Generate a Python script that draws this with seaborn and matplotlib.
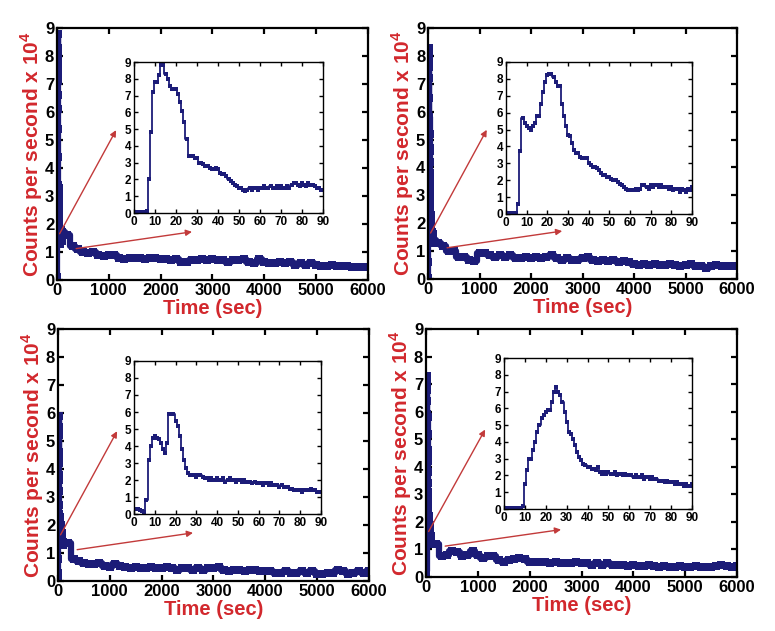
import numpy as np
import pandas as pd
import matplotlib
matplotlib.use("Agg")
import matplotlib.pyplot as plt
import seaborn as sns

# first 90 s (1 s sampling), counts per second x 1e4
inset_a = [0.05, 0.05, 0.05, 0.05, 0.05, 0.05, 0.1, 2.0, 4.8, 7.2,
           7.8, 7.8, 8.2, 8.8, 8.8, 8.3, 8.0, 7.6, 7.4, 7.4,
           7.4, 7.1, 6.6, 6.1, 5.4, 4.4, 3.4, 3.4, 3.4, 3.3,
           3.3, 3.0, 3.0, 2.9, 2.8, 2.8, 2.7, 2.6, 2.6, 2.7,
           2.6, 2.4, 2.3, 2.3, 2.2, 2.0, 1.9, 1.8, 1.7, 1.6,
           1.5, 1.5, 1.4, 1.3, 1.4, 1.5, 1.4, 1.5, 1.5, 1.4,
           1.5, 1.5, 1.6, 1.5, 1.5, 1.6, 1.5, 1.5, 1.6, 1.5,
           1.6, 1.5, 1.5, 1.6, 1.5, 1.7, 1.8, 1.8, 1.7, 1.6,
           1.8, 1.7, 1.6, 1.8, 1.7, 1.7, 1.6, 1.5, 1.5, 1.4, 1.4]
inset_b = [0.05, 0.05, 0.05, 0.05, 0.05, 0.05, 0.6, 3.7, 5.7, 5.4,
           5.2, 5.1, 5.0, 5.2, 5.4, 5.8, 5.8, 6.5, 7.2, 7.8,
           8.2, 8.3, 8.3, 8.1, 7.8, 7.6, 7.6, 6.5, 5.8, 5.2,
           4.7, 4.6, 4.2, 3.8, 3.6, 3.6, 3.4, 3.3, 3.3, 3.3,
           3.0, 2.9, 2.8, 2.8, 2.7, 2.6, 2.4, 2.3, 2.3, 2.2,
           2.2, 2.1, 2.0, 2.0, 1.9, 1.8, 1.7, 1.6, 1.5, 1.4,
           1.4, 1.4, 1.4, 1.5, 1.4, 1.5, 1.7, 1.7, 1.6, 1.5,
           1.7, 1.6, 1.7, 1.7, 1.6, 1.7, 1.6, 1.6, 1.6, 1.5,
           1.6, 1.4, 1.5, 1.5, 1.3, 1.5, 1.4, 1.3, 1.5, 1.4, 1.6]
inset_c = [0.3, 0.3, 0.3, 0.25, 0.2, 0.1, 0.8, 3.2, 4.0, 4.5,
           4.6, 4.5, 4.4, 4.2, 3.8, 3.6, 4.2, 5.9, 5.9, 5.9,
           5.5, 5.2, 4.6, 3.8, 3.2, 2.7, 2.4, 2.3, 2.3, 2.3,
           2.2, 2.3, 2.3, 2.2, 2.1, 2.1, 2.0, 2.1, 2.0, 2.0,
           2.1, 2.0, 2.0, 2.1, 1.9, 2.0, 2.1, 2.0, 2.0, 1.9,
           2.0, 2.0, 1.9, 2.0, 1.9, 1.9, 1.9, 1.8, 1.9, 1.8,
           1.8, 1.8, 1.7, 1.8, 1.8, 1.7, 1.8, 1.7, 1.7, 1.7,
           1.6, 1.7, 1.6, 1.6, 1.6, 1.5, 1.5, 1.4, 1.4, 1.4,
           1.4, 1.3, 1.4, 1.4, 1.4, 1.5, 1.4, 1.4, 1.3, 1.3, 1.3]
inset_d = [0.05, 0.05, 0.05, 0.05, 0.05, 0.05, 0.05, 0.05, 0.05, 0.2,
           1.5, 2.3, 3.0, 3.0, 3.5, 4.0, 4.6, 5.0, 5.4, 5.6,
           5.8, 5.9, 5.9, 6.4, 7.0, 7.3, 7.0, 6.8, 6.4, 5.8,
           5.2, 4.6, 4.5, 4.2, 3.8, 3.4, 3.1, 2.9, 2.7, 2.6,
           2.5, 2.5, 2.4, 2.4, 2.3, 2.5, 2.2, 2.1, 2.2, 2.1,
           2.2, 2.1, 2.1, 2.2, 2.0, 2.1, 2.1, 2.0, 2.1, 2.0,
           2.0, 2.0, 1.9, 2.0, 1.9, 1.9, 2.0, 1.8, 1.9, 1.9,
           1.8, 1.9, 1.8, 1.8, 1.7, 1.7, 1.7, 1.6, 1.7, 1.6,
           1.6, 1.6, 1.5, 1.6, 1.5, 1.5, 1.4, 1.5, 1.4, 1.4, 1.5]
inset_time = list(range(0, 91))

# long-run decay, 100 s sampling from 100 s to 6000 s
tail_time = list(range(100, 6001, 100))
tail_a = [1.7, 1.6, 1.2, 1.1, 1.0, 0.95, 1.0, 0.9, 0.85, 0.9,
          0.9, 0.8, 0.75, 0.8, 0.8, 0.8, 0.75, 0.8, 0.8, 0.75,
          0.75, 0.7, 0.75, 0.65, 0.65, 0.7, 0.7, 0.75, 0.7, 0.75,
          0.7, 0.7, 0.65, 0.7, 0.7, 0.75, 0.65, 0.6, 0.75, 0.65,
          0.6, 0.6, 0.65, 0.6, 0.65, 0.55, 0.6, 0.55, 0.6, 0.55,
          0.5, 0.5, 0.55, 0.5, 0.5, 0.5, 0.45, 0.45, 0.45, 0.45]
tail_b = [1.4, 1.3, 1.2, 1.0, 1.0, 0.8, 0.8, 0.7, 0.65, 0.95,
          0.95, 0.85, 0.8, 0.85, 0.8, 0.85, 0.75, 0.75, 0.8, 0.75,
          0.8, 0.75, 0.8, 0.85, 0.75, 0.7, 0.75, 0.7, 0.7, 0.75,
          0.8, 0.7, 0.65, 0.7, 0.65, 0.7, 0.6, 0.65, 0.6, 0.55,
          0.5, 0.55, 0.5, 0.55, 0.5, 0.5, 0.55, 0.5, 0.45, 0.5,
          0.55, 0.45, 0.45, 0.4, 0.45, 0.5, 0.45, 0.45, 0.45, 0.45]
tail_c = [1.4, 1.35, 0.8, 0.7, 0.65, 0.6, 0.6, 0.65, 0.55, 0.5,
          0.6, 0.55, 0.5, 0.45, 0.5, 0.45, 0.45, 0.5, 0.45, 0.45,
          0.5, 0.45, 0.4, 0.45, 0.45, 0.4, 0.45, 0.4, 0.45, 0.45,
          0.5, 0.4, 0.35, 0.4, 0.4, 0.35, 0.4, 0.4, 0.35, 0.35,
          0.35, 0.3, 0.3, 0.35, 0.3, 0.3, 0.35, 0.3, 0.35, 0.25,
          0.25, 0.3, 0.3, 0.4, 0.35, 0.25, 0.3, 0.35, 0.3, 0.35]
tail_d = [1.2, 1.2, 0.75, 0.8, 0.95, 0.9, 0.75, 0.8, 0.95, 0.8,
          0.7, 0.75, 0.75, 0.6, 0.55, 0.6, 0.65, 0.7, 0.65, 0.55,
          0.55, 0.55, 0.55, 0.5, 0.55, 0.5, 0.5, 0.5, 0.55, 0.5,
          0.5, 0.45, 0.5, 0.45, 0.5, 0.45, 0.45, 0.45, 0.4, 0.45,
          0.4, 0.4, 0.45, 0.4, 0.35, 0.4, 0.35, 0.35, 0.4, 0.35,
          0.35, 0.4, 0.35, 0.35, 0.35, 0.4, 0.45, 0.4, 0.35, 0.4]

main_xticks = [0, 1000, 2000, 3000, 4000, 5000, 6000]
inset_xticks = [0, 10, 20, 30, 40, 50, 60, 70, 80, 90]
yticks = [0, 1, 2, 3, 4, 5, 6, 7, 8, 9]

# arrow (start, end) in main data coords
arrow_up = ((50, 1.65), (1140, 5.35))
arrow_right = ((370, 1.12), (2605, 1.72))

sns.set_style("ticks")
plt.rcParams['font.family'] = ['Liberation Sans', 'DejaVu Sans']
plt.rcParams['font.weight'] = 'bold'
plt.rcParams['mathtext.fontset'] = 'custom'
plt.rcParams['mathtext.bf'] = 'Liberation Sans:bold'
plt.rcParams['mathtext.rm'] = 'Liberation Sans:bold'

navy = '#1c1c78'
red = '#d2282d'
arrow_red = '#c23a3a'

fig = plt.figure(figsize=(7.75, 6.31), dpi=100)

main_pos = [[0.0735, 0.5563, 0.4013, 0.3994],
            [0.5523, 0.5578, 0.3987, 0.3978],
            [0.0748, 0.0792, 0.4013, 0.3994],
            [0.5497, 0.0856, 0.4013, 0.3930]]
inset_pos = [[0.1729, 0.6624, 0.2439, 0.2393],
             [0.6529, 0.6609, 0.2400, 0.2409],
             [0.1729, 0.1854, 0.2413, 0.2425],
             [0.6503, 0.1933, 0.2426, 0.2393]]

insets = [inset_a, inset_b, inset_c, inset_d]
tails = [tail_a, tail_b, tail_c, tail_d]


def style_axes(ax, fs, width):
    ax.tick_params(direction='in', top=True, right=True, length=4,
                   width=width, labelsize=fs, colors='black', pad=2)
    for s in ax.spines.values():
        s.set_linewidth(width)
        s.set_color('black')
        s.set_visible(True)
    for lab in ax.get_xticklabels() + ax.get_yticklabels():
        lab.set_fontweight('bold')


for i in range(4):
    ax = fig.add_axes(main_pos[i])
    full = pd.DataFrame({'t': inset_time + tail_time,
                         'c': insets[i] + tails[i]})
    sns.lineplot(data=full, x='t', y='c', ax=ax, color=navy, linewidth=4.5,
                 marker='s', markersize=6, markeredgewidth=0,
                 estimator=None, sort=False, drawstyle='steps-mid')
    ax.set_xlim(0, 6000)
    ax.set_ylim(0, 9)
    ax.set_xticks(main_xticks)
    ax.set_yticks(yticks)
    ax.set_xlabel('Time (sec)', color=red, fontsize=14.5, fontweight='bold',
                  labelpad=1)
    ax.set_ylabel('Counts per second x 10$^{\\mathbf{4}}$', color=red,
                  fontsize=15, fontweight='bold', labelpad=0)
    style_axes(ax, 12, 1.6)
    for (x0, y0), (x1, y1) in [arrow_up, arrow_right]:
        ax.annotate('', xy=(x1, y1), xytext=(x0, y0),
                    arrowprops=dict(arrowstyle='-|>', color=arrow_red,
                                    lw=1.0, mutation_scale=9,
                                    shrinkA=0, shrinkB=0))

    axi = fig.add_axes(inset_pos[i])
    part = pd.DataFrame({'t': inset_time, 'c': insets[i]})
    sns.lineplot(data=part, x='t', y='c', ax=axi, color=navy, linewidth=1.3,
                 marker='s', markersize=3, markeredgewidth=0,
                 estimator=None, sort=False, drawstyle='steps-mid')
    axi.set_xlim(0, 90)
    axi.set_ylim(0, 9)
    axi.set_xticks(inset_xticks)
    axi.set_yticks(yticks)
    axi.set_xlabel('')
    axi.set_ylabel('')
    style_axes(axi, 8.5, 1.0)
    axi.tick_params(length=3)

fig.savefig('out.png', dpi=100)
